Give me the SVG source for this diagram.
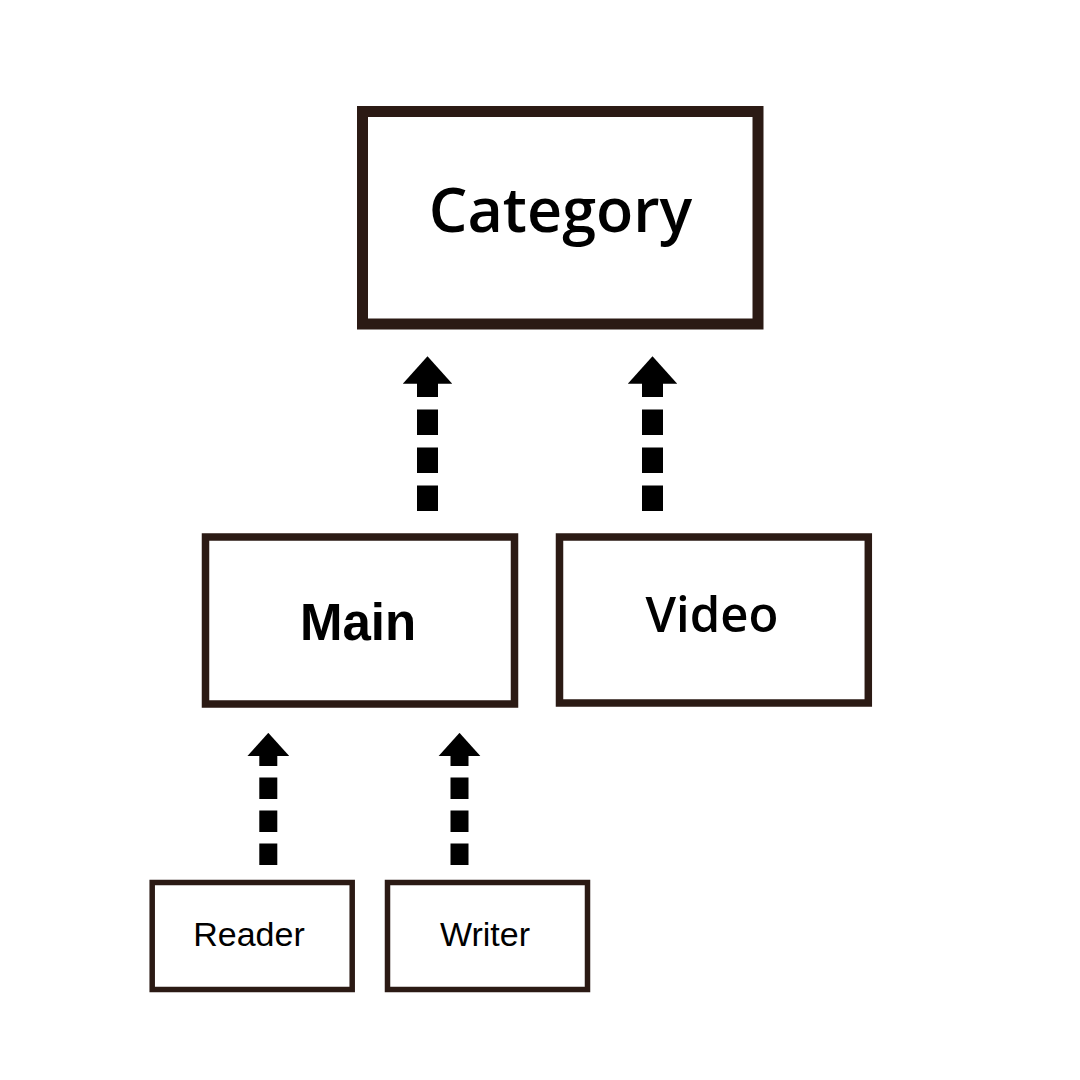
<svg xmlns="http://www.w3.org/2000/svg" width="1080" height="1080" viewBox="0 0 1080 1080">
<style>
.box{fill:#fff;stroke:#2b1a14}
.conn{fill:none;stroke:#000;stroke-linecap:butt}
.hum{font-family:"Open Sans","Noto Sans",sans-serif;font-weight:600;fill:#000;text-anchor:middle}
.ari{font-family:"Liberation Sans",Arial,sans-serif;fill:#000;text-anchor:middle}
</style>
<defs>
<marker id="head" viewBox="0 0 1.3 2.34" markerWidth="1.3" markerHeight="2.34" refX="0.03" refY="1.17" orient="auto" markerUnits="strokeWidth">
<path d="M0,0 L1.3,1.17 L0,2.34 Z" fill="#000"/>
</marker>
</defs>
<rect width="1080" height="1080" fill="#fff"/>
<g id="connectors">
<line class="conn" x1="427.5" y1="511" x2="427.5" y2="383" stroke-width="21" stroke-dasharray="25.5 12.5" marker-end="url(#head)"/>
<line class="conn" x1="652.5" y1="511" x2="652.5" y2="383" stroke-width="21" stroke-dasharray="25.5 12.5" marker-end="url(#head)"/>
<line class="conn" x1="268.3" y1="865" x2="268.3" y2="755.7" stroke-width="18" stroke-dasharray="21.5 11.5" marker-end="url(#head)"/>
<line class="conn" x1="459.5" y1="865" x2="459.5" y2="755.7" stroke-width="18" stroke-dasharray="21.5 11.5" marker-end="url(#head)"/>
</g>
<g id="category">
<rect class="box" x="362.5" y="111.5" width="395.5" height="212.5" stroke-width="11"/>
<text class="hum" x="560.5" y="232" font-size="61">Category</text>
</g>
<g id="main">
<rect class="box" x="205.5" y="537" width="309" height="167" stroke-width="7.5"/>
<text class="ari" x="358" y="640" font-size="51" font-weight="bold">Main</text>
</g>
<g id="video">
<rect class="box" x="559.5" y="537" width="308.8" height="166" stroke-width="7.5"/>
<text class="hum" x="712" y="631.5" font-size="49">Video</text>
</g>
<g id="reader">
<rect class="box" x="152.2" y="882.5" width="200" height="107" stroke-width="5.5"/>
<text class="ari" x="249" y="945.5" font-size="34">Reader</text>
</g>
<g id="writer">
<rect class="box" x="387.5" y="882.5" width="200" height="107" stroke-width="5.5"/>
<text class="ari" x="485" y="945.5" font-size="34">Writer</text>
</g>
</svg>
